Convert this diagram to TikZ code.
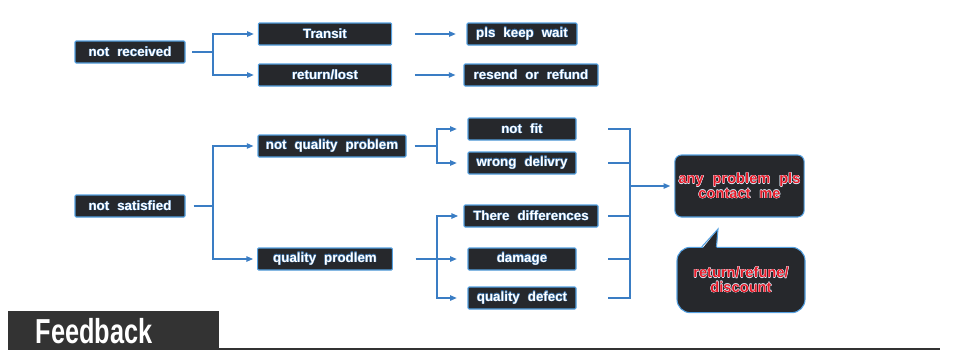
\documentclass[tikz,border=0pt]{standalone}
\usepackage{fontspec}
\setmainfont{Liberation Sans}
\usepackage{xcolor}
\usepackage{contour}
\usetikzlibrary{arrows.meta}
\definecolor{FlowBox}{RGB}{38, 40, 44}
\definecolor{FlowEdge}{RGB}{84, 160, 225}
\definecolor{FlowLine}{RGB}{58, 125, 196}
\definecolor{FlowGlow}{RGB}{60, 110, 160}
\definecolor{FlowRed}{RGB}{230, 28, 40}
\definecolor{BarGrey}{RGB}{51, 51, 51}
\contourlength{0.3pt}
\contournumber{8}
\newcommand\boxfont{\fontsize{10}{11}\selectfont\bfseries\spaceskip=0.6em\relax}
\newcommand\redfont{\fontsize{11}{11}\selectfont\bfseries\spaceskip=0.6em\relax}
\newcommand\glow[1]{\contour{FlowGlow}{#1}}
\newcommand\redglow[1]{\contour{white!80!FlowEdge}{\textcolor{FlowRed}{#1}}}
\tikzset{
  flowbox/.style={draw=FlowEdge, line width=0.8pt, fill=FlowBox, text=white,
    font=\boxfont, minimum height=16.5pt, inner sep=1pt, rounded corners=0.8pt},
  flowline/.style={draw=FlowLine, line width=1pt},
  flowarrow/.style={flowline, -{Triangle[length=5pt,width=4pt]}, shorten >=3pt},
  redbox/.style={flowbox, font=\redfont, align=center}
}
\begin{document}
\begin{tikzpicture}[x=0.75pt, y=-0.75pt]
  \useasboundingbox (0,0) rectangle (967,361);
  % top branch
  \node[flowbox, minimum width=82.5pt] (recv) at (130,52) {\glow{not received}};
  \node[flowbox, minimum width=100pt] (transit) at (325,34) {\glow{Transit}};
  \node[flowbox, minimum width=100pt] (lost) at (325,75) {\glow{return/lost}};
  \node[flowbox, minimum width=82.5pt] (wait) at (522,34) {\glow{pls keep wait}};
  \node[flowbox, minimum width=100.5pt] (resend) at (531,75) {\glow{resend or refund}};
  \coordinate (fork1) at (213,52);
  \draw[flowline, shorten <=5pt] (recv.east) -- (fork1);
  \draw[flowarrow] (fork1) |- (transit.west);
  \draw[flowarrow] (fork1) |- (lost.west);
  \draw[flowarrow, shorten <=17pt, shorten >=8pt] (transit) -- (wait);
  \draw[flowarrow, shorten <=17pt, shorten >=6pt] (lost) -- (resend);
  % bottom branch
  \node[flowbox, minimum width=82.5pt] (unsat) at (130,206) {\glow{not satisfied}};
  \node[flowbox, minimum width=111pt] (notq) at (332,146) {\glow{not quality problem}};
  \node[flowbox, minimum width=101pt] (qual) at (325,259) {\glow{quality prodlem}};
  \node[flowbox, minimum width=81pt] (nofit) at (522,129) {\glow{not fit}};
  \node[flowbox, minimum width=81pt] (wrong) at (522,163) {\glow{wrong delivry}};
  \node[flowbox, minimum width=100.5pt] (diff) at (531,216) {\glow{There differences}};
  \node[flowbox, minimum width=81pt] (damage) at (522,259) {\glow{damage}};
  \node[flowbox, minimum width=81pt] (defect) at (522,298) {\glow{quality defect}};
  \coordinate (fork2) at (213,206);
  \coordinate (fork3) at (437,146);
  \coordinate (fork4) at (437,259);
  \draw[flowline, shorten <=6pt] (unsat.east) -- (fork2);
  \draw[flowarrow] (fork2) |- (notq.west);
  \draw[flowarrow] (fork2) |- (qual.west);
  \draw[flowline, shorten <=6pt] (notq.east) -- (fork3);
  \draw[flowarrow, shorten >=8pt] (fork3) |- (nofit.west);
  \draw[flowarrow, shorten >=8pt] (fork3) |- (wrong.west);
  \draw[flowarrow, shorten <=17pt, shorten >=8pt] (qual) -- (damage);
  \draw[flowarrow, shorten >=4pt] (fork4) |- (diff.west);
  \draw[flowarrow, shorten >=8pt] (fork4) |- (defect.west);
  % right bracket
  \coordinate (brk) at (608,0);
  \coordinate (join) at (630,186);
  \foreach \b in {nofit, wrong, diff, damage, defect}
    \draw[flowline] (\b.east -| brk) -| (join);
  \node[redbox, rounded corners=5pt, minimum width=97pt, minimum height=46.5pt]
    (contact) at (739.5,186) {\redglow{any problem pls}\\\redglow{contact me}};
  \draw[flowarrow] (join) -- (contact.west);
  \node[redbox, rounded corners=10pt, minimum width=96pt, minimum height=49pt]
    (refund) at (741,280) {\redglow{return/refune/}\\\redglow{discount}};
  \coordinate (tip) at (718,229);
  \fill[FlowBox] ([xshift=19pt,yshift=-2pt]refund.north west) -- (tip)
    -- ([xshift=30pt,yshift=-2pt]refund.north west) -- cycle;
  \draw[FlowEdge, line width=0.8pt] ([xshift=19pt]refund.north west) -- (tip)
    -- ([xshift=30pt]refund.north west);
  % footer
  \fill[BarGrey] (8,311) rectangle (219,350);
  \node[text=white, inner sep=0pt] (feedback) at (94,331)
    {\scalebox{0.73}[1]{\fontsize{26}{26}\selectfont\bfseries Feedback}};
  \draw[BarGrey, line width=2pt] (219,349) -- (940,349);
\end{tikzpicture}
\end{document}
